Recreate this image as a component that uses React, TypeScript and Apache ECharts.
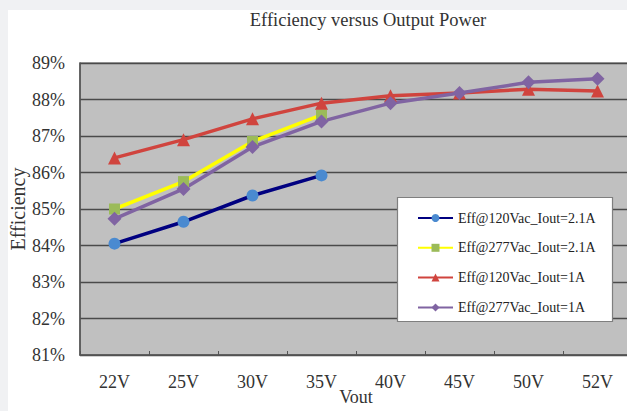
import React, { useEffect, useRef } from "react";
import * as echarts from "echarts";

const categories = ["22V", "25V", "30V", "35V", "40V", "45V", "50V", "52V"];
const eff120Iout21 = [84.05, 84.65, 85.37, 85.92];
const eff277Iout21 = [85.0, 85.75, 86.85, 87.58];
const eff120Iout1 = [86.4, 86.9, 87.47, 87.9, 88.1, 88.18, 88.28, 88.23];
const eff277Iout1 = [84.73, 85.55, 86.7, 87.4, 87.9, 88.18, 88.47, 88.57];
const seriesNames = [
  "Eff@120Vac_Iout=2.1A",
  "Eff@277Vac_Iout=2.1A",
  "Eff@120Vac_Iout=1A",
  "Eff@277Vac_Iout=1A",
];
const yTicks = { min: 81, max: 89, interval: 1 };

const FONT = "'Liberation Serif', 'DejaVu Serif', serif";

export default function App() {
  const ref = useRef<HTMLDivElement>(null);
  useEffect(() => {
    if (!ref.current) return;
    const chart = echarts.init(ref.current, null, { renderer: "svg" });
    const mk = (
      name: string,
      data: number[],
      lineColor: string,
      markColor: string,
      symbol: string,
      size: number
    ) => ({
      name,
      type: "line",
      data,
      symbol,
      symbolSize: size,
      lineStyle: { color: lineColor, width: 3.5 },
      itemStyle: { color: markColor },
      z: 3,
    });
    chart.setOption({
      animation: false,
      backgroundColor: "#ffffff",
      textStyle: { fontFamily: FONT },
      graphic: [
        {
          type: "text",
          x: 360,
          y: 10,
          style: {
            text: "Efficiency versus Output Power",
            font: `18.5px ${FONT}`,
            fill: "#333",
            textAlign: "center",
            textVerticalAlign: "middle",
          },
        },
        {
          type: "rect",
          z: 10,
          shape: { x: 389.5, y: 187.5, width: 215, height: 124 },
          style: { fill: "#ffffff", stroke: "#7f7f7f", lineWidth: 1.2 },
        },
      ],
      grid: {
        left: 72,
        top: 53,
        width: 552,
        height: 292,
        outerBoundsMode: "none",
        containLabel: false,
        show: true,
        backgroundColor: "#c0c0c0",
        borderColor: "#555",
        borderWidth: 1.2,
      },
      legend: {
        orient: "vertical",
        left: 404,
        top: 196,
        z: 11,
        itemWidth: 35,
        itemHeight: 10,
        itemGap: 15.8,
        data: seriesNames,
        textStyle: { fontFamily: FONT, fontSize: 14, color: "#222" },
      },
      xAxis: {
        type: "category",
        data: categories,
        boundaryGap: true,
        name: "Vout",
        nameLocation: "middle",
        nameGap: 33,
        nameMoveOverlap: false,
        nameTextStyle: { fontFamily: FONT, fontSize: 18, color: "#333" },
        axisLine: { lineStyle: { color: "#555", width: 1.5 } },
        axisTick: { show: true, inside: true, length: 4, lineStyle: { color: "#555" } },
        axisLabel: { fontFamily: FONT, fontSize: 18, color: "#333", margin: 18 },
      },
      yAxis: {
        type: "value",
        min: yTicks.min,
        max: yTicks.max,
        interval: yTicks.interval,
        name: "Efficiency",
        nameLocation: "middle",
        nameGap: 52,
        nameMoveOverlap: false,
        nameRotate: 90,
        nameTextStyle: { fontFamily: FONT, fontSize: 20, color: "#333" },
        axisLine: { show: true, lineStyle: { color: "#555", width: 1.5 } },
        axisTick: { show: false },
        splitLine: { show: true, lineStyle: { color: "#4a4a4a", width: 1.4 } },
        axisLabel: {
          fontFamily: FONT,
          fontSize: 18,
          color: "#333",
          margin: 15,
          formatter: "{value}%",
        },
      },
      series: [
        mk(seriesNames[0], eff120Iout21, "#000080", "#4a8ad0", "circle", 12),
        mk(seriesNames[1], eff277Iout21, "#ffff00", "#9bbb59", "rect", 11),
        mk(seriesNames[2], eff120Iout1, "#d0443e", "#d0443e", "triangle", 13),
        mk(seriesNames[3], eff277Iout1, "#8064a2", "#8064a2", "diamond", 14),
      ],
    });
    return () => chart.dispose();
  }, []);
  return (
    <div
      style={{
        position: "fixed",
        left: 0,
        top: 0,
        width: 627,
        height: 411,
        background: "#f0f1f3",
        overflow: "hidden",
      }}
    >
      <div
        ref={ref}
        style={{ position: "absolute", left: 8, top: 10, width: 619, height: 401 }}
      />
    </div>
  );
}
